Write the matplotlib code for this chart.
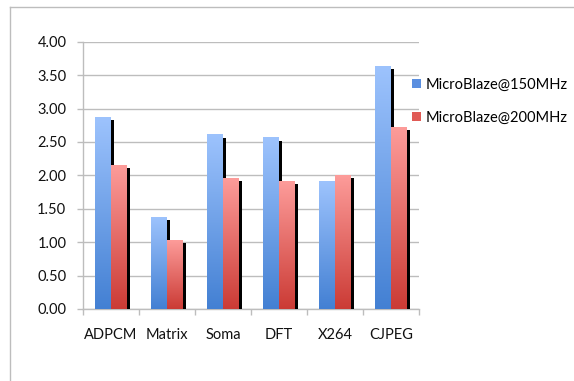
import numpy as np
import matplotlib
matplotlib.use("Agg")
import matplotlib.pyplot as plt
import matplotlib.transforms as mtransforms
from matplotlib.colors import LinearSegmentedColormap
from matplotlib.patches import Patch
from matplotlib.lines import Line2D

categories = ["ADPCM", "Matrix", "Soma", "DFT", "X264", "CJPEG"]
mb150 = [2.87, 1.37, 2.61, 2.56, 1.91, 3.63]
mb200 = [2.15, 1.03, 1.96, 1.91, 2.00, 2.72]
series_names = ["MicroBlaze@150MHz", "MicroBlaze@200MHz"]
yticks = [0.0, 0.5, 1.0, 1.5, 2.0, 2.5, 3.0, 3.5, 4.0]

plt.rcParams['font.family'] = ['Lato', 'DejaVu Sans']

W, H = 574, 381
fig = plt.figure(figsize=(W / 100, H / 100), dpi=100)
ax = fig.add_axes([83 / W, 1 - 309 / H, (419 - 83) / W, (309 - 41.7) / H])

grid_c = "#BDBDBD"
blue_cmap = LinearSegmentedColormap.from_list("b", ["#4380D3", "#9DC3FD"])
red_cmap = LinearSegmentedColormap.from_list("r", ["#CB3B35", "#FD9C9A"])

x = np.arange(len(categories))
bw = 16 / 56
shadow_tr = mtransforms.offset_copy(ax.transData, fig=fig, x=3, y=-3, units="dots")

grad = np.linspace(0, 1, 256).reshape(-1, 1)
z = 2
for vals, cmap, off, col in [(mb150, blue_cmap, -bw / 2, "#5B8FE0"), (mb200, red_cmap, bw / 2, "#E05A55")]:
    # shadows
    sh = ax.bar(x + off, vals, bw, color="black", zorder=z, transform=shadow_tr)
    bars = ax.bar(x + off, vals, bw, color=col, zorder=z + 0.5)
    for p in bars.patches:
        x0, w, h = p.get_x(), p.get_width(), p.get_height()
        ax.imshow(grad, cmap=cmap, origin="lower", aspect="auto",
                  extent=[x0, x0 + w, 0, h], zorder=z + 1, interpolation="bilinear")
    z += 2

ax.set_xlim(-0.5, len(categories) - 0.5)
ax.set_ylim(0, 4.0)
ax.set_yticks(yticks)
ax.set_yticklabels([f"{v:.2f}" for v in yticks])
ax.set_xticks(x)
ax.set_xticklabels(categories)
ax.set_xticks(np.arange(len(categories) + 1) - 0.5, minor=True)
ax.tick_params(axis="x", which="major", length=0, pad=14, labelsize=10.5, colors="#111111")
ax.tick_params(axis="x", which="minor", length=4, color=grid_c, width=1)
ax.tick_params(axis="y", length=4, color=grid_c, width=1, pad=8, labelsize=10.5, colors="#111111")
ax.yaxis.grid(True, color=grid_c, linewidth=1)
ax.set_axisbelow(True)
for s in ["top", "right"]:
    ax.spines[s].set_visible(False)
for s in ["left", "bottom"]:
    ax.spines[s].set_color(grid_c)
    ax.spines[s].set_linewidth(1)

handles = [Patch(facecolor="#5B8FE0", edgecolor="none"), Patch(facecolor="#E05A55", edgecolor="none")]
fig.legend(handles, series_names, loc="upper left", bbox_to_anchor=(406 / W, 1 - 72 / H),
           frameon=False, fontsize=10.5, handlelength=0.6, handleheight=0.6,
           handletextpad=0.35, labelspacing=1.3, borderaxespad=0)

# outer chart frame (partially visible)
fig.add_artist(Line2D([9.5 / W, 9.5 / W], [0, 1 - 6.5 / H], color=grid_c, lw=1, transform=fig.transFigure))
fig.add_artist(Line2D([9.5 / W, 1], [1 - 6.5 / H, 1 - 6.5 / H], color=grid_c, lw=1, transform=fig.transFigure))

fig.savefig("out.png", dpi=100, facecolor="white")
